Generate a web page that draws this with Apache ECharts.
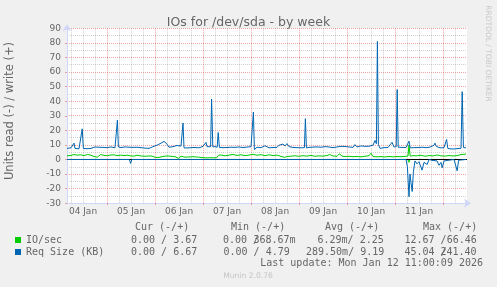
<!DOCTYPE html>
<html>
<head>
<meta charset="utf-8">
<script src="https://cdn.jsdelivr.net/npm/echarts/dist/echarts.min.js"></script>
<style>
html,body{margin:0;padding:0;background:#F0F0F0;}
#chart{width:497px;height:287px;}
</style>
</head>
<body>
<div id="chart"></div>
<script>
// x values are hours since 04 Jan 00:00
const dayLines = [24, 48, 72, 96, 120, 144, 168, 192];
const sixHourLines = [6, 12, 18, 30, 36, 42, 54, 60, 66, 78, 84, 90, 102, 108, 114, 126, 132, 138, 150, 156, 162, 174, 180, 186, 198];
const dayLabelHours = [12, 36, 60, 84, 108, 132, 156, 180];
const dayLabels = ['04 Jan', '05 Jan', '06 Jan', '07 Jan', '08 Jan', '09 Jan', '10 Jan', '11 Jan'];

// IO/sec write (+)
const ioWrite = [[4,2.5],[6,2.8],[7.5,3.4],[9,3.0],[10.8,3.2],[12.5,2.7],[14.2,3.4],[16,2.9],[17.5,2.0],[19.2,1.6],[20.8,3.4],[22.5,2.8],[24.2,2.6],[26,3.1],[27.5,3.2],[29,2.6],[30.8,3.0],[32.5,2.7],[34,2.9],[35.8,2.5],[37.5,2.3],[39,2.9],[41,2.4],[43,2.2],[45,2.4],[46.5,2.3],[48,1.5],[50,1.4],[52,2.1],[54,2.4],[56,2.2],[58,1.9],[59.8,0.8],[61,2.2],[63,1.6],[65,1.7],[67,1.9],[69.8,1.6],[72,1.2],[74,1.1],[76,1.2],[78.8,1.1],[79.7,2.9],[81,3.1],[83,2.5],[85,3.0],[87,3.4],[89,2.8],[91,3.2],[93,2.7],[95,3.0],[97,3.6],[99,2.9],[101,3.3],[103,2.6],[105,3.2],[107,2.7],[109,3.0],[111,2.1],[112.8,1.5],[114,2.0],[116,2.3],[118,2.5],[120,2.2],[122,2.6],[124,2.3],[126,2.8],[128,2.2],[130,2.5],[132,2.3],[134,2.7],[135.3,3.4],[137,2.4],[139,2.2],[140.2,3.9],[141.5,2.3],[143,2.0],[145,2.2],[147,1.9],[149,2.1],[151,1.8],[153,2.2],[155,2.6],[156,4.3],[157,2.0],[159,1.8],[161,2.0],[163,1.7],[165,2.1],[167,1.8],[169,2.0],[171,1.9],[173,2.1],[174.5,2.4],[175,10],[175.6,2.3],[177,2.6],[179,2.5],[181,2.9],[183,2.2],[185,2.7],[187,2.4],[189,3.1],[191,2.5],[193,2.3],[195,2.7],[197,2.4],[199,2.6],[201,3.4],[203.5,3.7]];
// IO/sec read (-)
const ioRead = [[4,0],[174.5,0],[175,-2],[175.5,0],[203.5,0]];
// Req Size write (+)
const reqWrite = [[4,7.6],[5,7.4],[6,8.0],[7,8.6],[7.5,11.2],[8,7.6],[9,7.8],[10,7.3],[11,7.5],[11.6,21],[12.2,7.5],[13,7.9],[14,7.4],[15,8.2],[16,7.6],[17,8.0],[18,8.6],[19,9.2],[20,8.4],[21,7.8],[22,8.3],[23,7.6],[24,8.1],[25,7.5],[26,8.6],[27,7.4],[28,8.0],[28.7,8.2],[29.2,27],[29.7,8.6],[31,8.2],[32,7.9],[33,8.6],[34,8.0],[35,8.4],[36,7.8],[37,8.3],[38,7.7],[39,8.4],[40,7.6],[41,8.1],[42,8.5],[43,7.8],[44,8.2],[45,7.6],[46,8.3],[47,8.8],[48,9.2],[49,9.8],[50,10.4],[51,11.2],[52,11.8],[52.5,12.4],[53,11.6],[54,10.5],[55,8.4],[56,8.0],[57,8.8],[58,8.3],[59,9.6],[60,10.4],[61,9.2],[61.6,9.6],[62,25],[62.5,8.0],[63,8.3],[64,7.9],[65,8.4],[66,8.1],[67,7.7],[68,8.2],[69,8.5],[70,8.0],[71,8.7],[72,9.0],[73,10.2],[73.5,11.7],[74,8.8],[75,8.4],[75.8,8.7],[76.3,41.5],[76.9,8.6],[78,8.9],[79.1,8.4],[79.6,18.5],[80.2,8.3],[81,7.8],[82,8.1],[83,7.6],[84,8.2],[85,7.9],[86,8.4],[87,7.7],[88,8.3],[89,7.9],[90,8.6],[91,7.8],[92,8.2],[93,8.0],[94,8.5],[95,7.9],[96,8.8],[96.7,8.2],[97.2,32.5],[97.7,6.8],[99,8.4],[100,8.9],[101,8.1],[102,8.6],[103,9.4],[104,8.5],[105,8.0],[106,8.7],[107,8.2],[108,9.1],[109,8.3],[110,9.8],[111,8.6],[112,10.6],[113,9.2],[114,10.9],[115,8.8],[116,9.5],[117,8.3],[118,8.9],[119,8.1],[120,8.7],[121,8.0],[122,8.4],[122.7,8.1],[123.2,28],[123.7,8.0],[125,8.3],[126,7.8],[127,8.5],[128,8.0],[129,8.6],[130,7.7],[131,8.4],[132,8.1],[133,8.8],[134,8.0],[135,8.6],[136,9.2],[137,8.1],[138,7.9],[139,8.6],[140,8.2],[141,9.0],[142,8.4],[143,8.9],[144,7.9],[145,8.6],[146,9.1],[147,8.3],[148,10.2],[149,8.6],[150,8.2],[151,9.3],[152,8.5],[153,9.0],[154,8.3],[155,9.1],[156,8.6],[157,9.8],[158,13.0],[158.7,10.8],[159.2,81],[159.7,10.2],[160.5,7.6],[161.5,8.7],[162.5,8.1],[163.5,8.8],[164.5,8.2],[165.5,9.0],[166.5,11.8],[167.5,8.6],[168.6,8.8],[169.1,48],[169.6,8.4],[170.5,9.0],[171.5,8.3],[172.5,8.9],[173.5,8.2],[174.5,8.7],[175,12.6],[175.6,8.0],[176.5,8.6],[177.5,8.1],[178.5,8.8],[179.5,8.2],[180.5,8.9],[181.5,8.4],[182.5,8.7],[183.5,8.1],[184.5,9.0],[185.5,8.5],[186.5,9.3],[187.5,9.8],[188,11.2],[188.7,8.9],[189.5,8.4],[190.5,8.0],[191.5,8.6],[192.5,8.1],[193.3,9.0],[193.8,13.7],[194.4,7.6],[195.5,7.3],[196.5,7.8],[197.5,7.2],[198.5,8.0],[199.5,7.5],[200.5,8.1],[201,7.7],[201.6,46.5],[202.2,8.2],[203,7.9],[203.5,8.0]];
// Req Size read (-)
const reqRead = [[4,0],[35.2,0],[35.8,-2.7],[36.4,0],[45.2,0],[45.7,-1.0],[46.2,0],[65.2,0],[65.7,-1.0],[66.2,0],[79.2,0],[79.7,-1.2],[80.2,0],[158.6,0],[159,-1.2],[159.5,0],[173.5,0],[174.2,-5],[175,-25.6],[175.5,-10],[176,-16],[176.6,-22],[177.2,-8.5],[178,-1],[179,-3],[180,-1.5],[181.5,-7.3],[182.5,-2],[183.3,-1],[184.1,-3.4],[185,0],[186.5,-0.6],[187.5,0],[189,-1],[190,-4],[191,-2],[191.6,-5.7],[192.5,-1],[193.5,0],[197.5,0],[198.2,-1],[199.1,-7.8],[199.8,-0.5],[200.5,0],[203.5,0]];

const statHeaders = [['Cur (-/+)', 135], ['Min (-/+)', 231], ['Avg (-/+)', 325], ['Max (-/+)', 423]];
const ioStats = [['0.00 / 3.67', 131], ['0.00 /', 223], ['368.67m', 253.5], ['6.29m/ 2.25', 317.5], ['12.67 /66.46', 404.5]];
const reqStats = [['0.00 / 6.67', 131], ['0.00 / 4.79', 223.5], ['289.50m/ 9.19', 306], ['45.04 /', 404.5], ['241.40', 440.5]];

const GRID_GREY = 'rgba(150,150,150,0.45)';
const GRID_RED = 'rgba(230,90,90,0.55)';
const FONT = '#666666';
const MONO = '10px "DejaVu Sans Mono"';

const chart = echarts.init(document.getElementById('chart'), null, {renderer: 'canvas'});

const graphics = [];
statHeaders.forEach(([t, x]) => graphics.push({type: 'text', x: x, y: 227.5, silent: true, style: {text: t, font: MONO, fill: FONT, verticalAlign: 'middle'}}));
ioStats.forEach(([t, x]) => graphics.push({type: 'text', x: x, y: 240, silent: true, style: {text: t, font: MONO, fill: FONT, verticalAlign: 'middle'}}));
reqStats.forEach(([t, x]) => graphics.push({type: 'text', x: x, y: 252, silent: true, style: {text: t, font: MONO, fill: FONT, verticalAlign: 'middle'}}));
graphics.push({type: 'text', x: 483, y: 263.5, silent: true, style: {text: 'Last update: Mon Jan 12 11:00:09 2026', font: MONO, fill: FONT, align: 'right', verticalAlign: 'middle'}});
graphics.push({type: 'text', x: 248, y: 276.5, silent: true, style: {text: 'Munin 2.0.76', font: '7.6px "DejaVu Sans"', fill: '#C4C4C4', align: 'center', verticalAlign: 'middle'}});
graphics.push({type: 'text', x: 488, y: 53.5, rotation: -Math.PI / 2, silent: true, style: {text: 'RRDTOOL / TOBI OETIKER', font: '7.5px "DejaVu Sans"', fill: '#C8C8C8', align: 'center', verticalAlign: 'middle'}});
graphics.push({type: 'text', x: 10, y: 111, rotation: Math.PI / 2, silent: true, style: {text: 'Units read (-) / write (+)', font: '11.5px "DejaVu Sans"', fill: FONT, align: 'center', verticalAlign: 'middle'}});

const lineSeries = (name, data, color, idx) => ({
  name: name, type: 'line', data: data, xAxisIndex: 1, yAxisIndex: 0,
  showSymbol: false, symbol: 'none', color: color,
  lineStyle: {color: color, width: 1}, itemStyle: {color: color},
  animation: false, silent: true, z: 3 + idx
});

const zeroSeries = lineSeries('Req Size (KB)', reqRead, '#0066B3', 3);
zeroSeries.markLine = {
  silent: true, symbol: 'none', label: {show: false}, animation: false,
  lineStyle: {color: '#000000', width: 1, type: 'solid'},
  data: [{yAxis: 0}]
};

chart.setOption({
  backgroundColor: '#F0F0F0',
  animation: false,
  title: {
    text: 'IOs for /dev/sda - by week', left: 'center', top: 11,
    textStyle: {fontFamily: 'DejaVu Sans', fontSize: 12.5, fontWeight: 'normal', color: FONT}
  },
  grid: {left: 67, right: 30, top: 28.3, bottom: 83.8, show: true, backgroundColor: '#FFFFFF', borderWidth: 0},
  legend: {
    data: ['IO/sec', 'Req Size (KB)'], orient: 'vertical', left: 15, top: 234, padding: 0,
    itemWidth: 6, itemHeight: 6, itemGap: 0, icon: 'rect', selectedMode: false,
    textStyle: {fontFamily: 'DejaVu Sans Mono', fontSize: 10, color: FONT, lineHeight: 12, height: 12}
  },
  xAxis: [
    {
      type: 'value', min: 4, max: 204, position: 'bottom',
      axisLine: {show: false}, axisLabel: {show: false},
      axisTick: {show: false, customValues: sixHourLines},
      splitLine: {show: true, lineStyle: {color: GRID_GREY, width: 1, type: [1, 1]}}
    },
    {
      type: 'value', min: 4, max: 204, position: 'bottom',
      axisLine: {show: true, onZero: false, lineStyle: {color: '#CFD6F8', width: 1}, symbol: ['none', 'arrow'], symbolSize: [7, 7], symbolOffset: [0, 4]},
      axisTick: {show: true, length: 2, inside: false, customValues: dayLines, lineStyle: {color: GRID_RED}},
      axisLabel: {
        show: true, customValues: dayLabelHours, margin: 4,
        fontFamily: 'DejaVu Sans', fontSize: 9, color: FONT,
        formatter: v => dayLabels[dayLabelHours.indexOf(v)] || ''
      },
      splitLine: {show: true, lineStyle: {color: GRID_RED, width: 1, type: [1, 1]}}
    }
  ],
  yAxis: {
    type: 'value', min: -30, max: 90, interval: 10,
    axisLine: {show: true, lineStyle: {color: '#CFD6F8', width: 1}, symbol: ['none', 'arrow'], symbolSize: [7, 7], symbolOffset: [0, 4]},
    axisTick: {show: true, length: 2, lineStyle: {color: GRID_RED}},
    axisLabel: {margin: 6, fontFamily: 'DejaVu Sans', fontSize: 9, color: FONT},
    splitLine: {show: true, lineStyle: {color: GRID_RED, width: 1, type: [1, 1]}},
    minorTick: {show: false, splitNumber: 2},
    minorSplitLine: {show: true, lineStyle: {color: GRID_GREY, width: 1, type: [1, 1]}}
  },
  series: [
    lineSeries('IO/sec', ioWrite, '#00CC00', 0),
    lineSeries('IO/sec', ioRead, '#00CC00', 1),
    lineSeries('Req Size (KB)', reqWrite, '#0066B3', 2),
    zeroSeries
  ],
  graphic: graphics
});
</script>
</body>
</html>
